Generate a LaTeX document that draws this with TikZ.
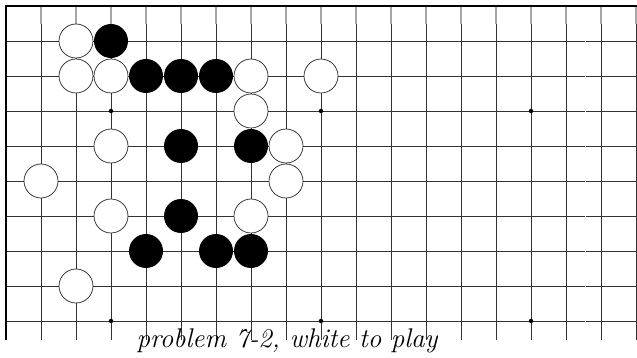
\documentclass[tikz,border=0pt]{standalone}
\begin{document}
\begin{tikzpicture}[x=1pt,y=-1pt,
  gridline/.style={line width=0.8pt,color=black!80},
  topline/.style={line width=1.4pt,color=black!35},
  border/.style={line width=1.6pt,color=black},
  wstone/.style={circle,draw=black!85,line width=0.7pt,fill=white,minimum size=34pt,inner sep=0pt},
  bstone/.style={circle,fill=black,minimum size=34pt,inner sep=0pt},
  hoshi/.style={circle,fill=black,minimum size=4.5pt,inner sep=0pt},
  caption/.style={font=\fontsize{27}{32}\selectfont\itshape,anchor=base,inner sep=0pt}]
\useasboundingbox[fill=white] (0,0) rectangle (637,358);
% horizontal lines
\foreach \r in {1,...,9} {
  \draw[gridline] (6,{6+35*\r}) -- (584.5,{6+35*\r});
  \draw[gridline] (586,{6+35*\r}) -- (637,{6+35*\r});
}
% vertical lines
\foreach \c in {1,...,18} {
  \draw[gridline] ({6+35*\c},24) -- ({6+35*\c},340);
  \draw[topline] ({6+35*\c},6) -- ({6+35*\c},24);
}
% borders
\draw[border] (6,340) -- (6,6) -- (637,6);
% star points
\foreach \x/\y [count=\i] in {111/111,321/111,531/111,111/321,321/321,531/321}
  \node[hoshi] (h\i) at (\x,\y) {};
% white stones
\foreach \c/\r [count=\i] in {2/1,2/2,3/2,7/2,9/2,7/3,3/4,8/4,1/5,8/5,3/6,7/6,2/8}
  \node[wstone] (w\i) at ({6+35*\c},{6+35*\r}) {};
% black stones
\foreach \c/\r [count=\i] in {3/1,4/2,5/2,6/2,5/4,7/4,5/6,4/7,6/7,7/7}
  \node[bstone] (b\i) at ({6+35*\c},{6+35*\r}) {};
% caption
\node[caption] (cap) at (287,347) {problem 7-2, white to play};
\end{tikzpicture}
\end{document}
